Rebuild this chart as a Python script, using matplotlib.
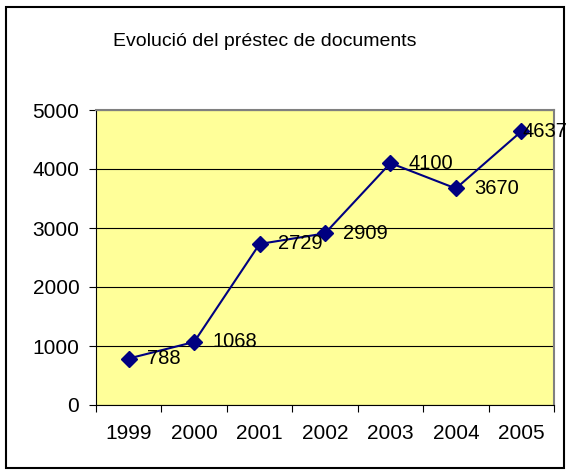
import matplotlib
matplotlib.use("Agg")
import matplotlib.pyplot as plt
from matplotlib.patches import Rectangle

years = ["1999", "2000", "2001", "2002", "2003", "2004", "2005"]
loans = [788, 1068, 2729, 2909, 4100, 3670, 4637]
title = "Evolució del préstec de documents"

plt.rcParams['font.family'] = ['Liberation Sans', 'DejaVu Sans']

fig = plt.figure(figsize=(5.71, 4.75), dpi=100)
# outer chart frame
fig.patches.append(Rectangle((6 / 571, 1 - 468 / 475), 558 / 571, 461 / 475,
                             transform=fig.transFigure, fill=False,
                             edgecolor="black", linewidth=1.5))

ax = fig.add_axes([96 / 571, 1 - 405 / 475, 458 / 571, 295 / 475])
ax.set_facecolor("#FFFF99")

x = [i + 0.5 for i in range(len(years))]
ax.plot(x, loans, color="#000080", linewidth=1.5, marker="D", markersize=8, zorder=3)
for i, (xi, v) in enumerate(zip(x, loans)):
    # last label is pulled left so it stays inside the frame
    dx = 1 if i == len(loans) - 1 else 13
    ax.annotate(str(v), (xi, v), xytext=(dx, 0), textcoords="offset points",
                va="center", ha="left", fontsize=14.5, color="black",
                annotation_clip=False, zorder=4)

ax.set_xlim(0, len(years))
ax.set_ylim(0, 5000)
ax.set_yticks(range(0, 5001, 1000))
ax.set_xticks(range(len(years) + 1))
ax.set_xticklabels([])
ax.set_xticks(x, minor=True)
ax.set_xticklabels(years, minor=True)
ax.tick_params(axis="x", which="minor", length=0, pad=14, labelsize=15)
ax.tick_params(axis="x", which="major", direction="out", length=5)
ax.tick_params(axis="y", direction="out", length=5, labelsize=15, pad=7)
ax.yaxis.grid(True, color="black", linewidth=0.8)
ax.set_axisbelow(True)

for side in ["top", "right"]:
    ax.spines[side].set_color("#808080")
    ax.spines[side].set_linewidth(1.5)
ax.spines["left"].set_color("black")
ax.spines["bottom"].set_color("black")

fig.text(265 / 571, 1 - 41 / 475, title, ha="center", va="center", fontsize=14)

fig.savefig("out.png", dpi=100)
